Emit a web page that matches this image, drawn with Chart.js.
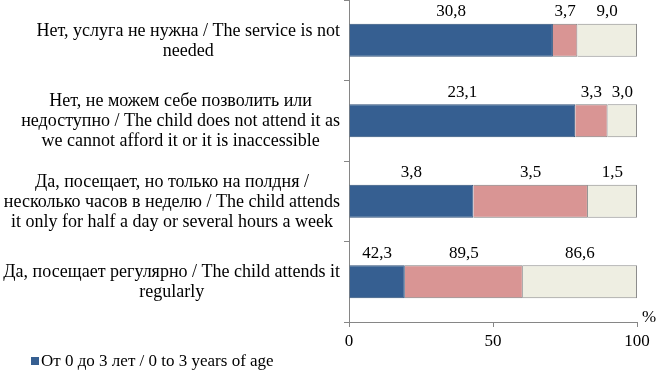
<!DOCTYPE html>
<html>
<head>
<meta charset="utf-8">
<script src="https://cdn.jsdelivr.net/npm/chart.js@4"></script>
<style>
  html, body { margin: 0; padding: 0; background: #fff; }
  #wrap { width: 658px; height: 371px; }
</style>
</head>
<body>
<div id="wrap"><canvas id="chartAttend"></canvas></div>
<script>
// categories (top to bottom)
var categories = [
    ['Нет, услуга не нужна / The service is not', 'needed'],
    ['Нет, не можем себе позволить или', 'недоступно / The child does not attend it as', 'we cannot afford it or it is inaccessible'],
    ['Да, посещает, но только на полдня /', 'несколько часов в неделю / The child attends', 'it only for half a day or several hours a week'],
    ['Да, посещает регулярно / The child attends it', 'regularly']
];
// series values as printed on the chart
var age0to3 = [30.8, 23.1, 3.8, 42.3];
var age3to5 = [3.7, 3.3, 3.5, 89.5];
var age5to7 = [9.0, 3.0, 1.5, 86.6];
var seriesNames = ['От 0 до 3 лет / 0 to 3 years of age', 'От 3 до 5 лет / 3 to 5 years of age', 'От 5 до 7 лет / 5 to 7 years of age'];
var xTicks = [0, 50, 100];

var font = '"Liberation Serif", "Times New Roman", serif';
var gray = '#868686';

// 100% stacked: share of each row
function share(series) {
    return series.map(function(v, i) {
        var total = age0to3[i] + age3to5[i] + age5to7[i];
        return v / total * 100;
    });
}

var chartData = {
    labels: categories,
    datasets: [{
        label: seriesNames[0],
        data: share(age0to3),
        raw: age0to3,
        backgroundColor: '#365F91',
        borderColor: '#2E4F78',
        borderWidth: 1
    }, {
        label: seriesNames[1],
        data: share(age3to5),
        raw: age3to5,
        backgroundColor: '#D99594',
        borderColor: '#7F7F7F',
        borderWidth: 1
    }, {
        label: seriesNames[2],
        data: share(age5to7),
        raw: age5to7,
        backgroundColor: '#EEEEE2',
        borderColor: '#8C8C8C',
        borderWidth: 1
    }]
};

// category labels, each block centred on its widest line, right edge at 340
var catLabels = {
    id: 'catLabels',
    afterDraw: function(chart) {
        var ctx = chart.ctx, y = chart.scales.y;
        ctx.save();
        ctx.font = '18px ' + font;
        ctx.fillStyle = '#000';
        ctx.textAlign = 'center';
        ctx.textBaseline = 'middle';
        categories.forEach(function(lines, i) {
            var widest = 0;
            lines.forEach(function(l) { widest = Math.max(widest, ctx.measureText(l).width); });
            var cx = 340 - widest / 2;
            var cy = y.getPixelForValue(i) + 1;
            var lh = 20;
            lines.forEach(function(l, k) {
                ctx.fillText(l, cx, cy + (k - (lines.length - 1) / 2) * lh);
            });
        });
        ctx.restore();
    }
};

// value labels above each segment, legend item and % sign
var extras = {
    id: 'extras',
    afterDraw: function(chart) {
        var ctx = chart.ctx;
        ctx.save();
        ctx.font = '17px ' + font;
        ctx.fillStyle = '#000';
        ctx.textAlign = 'center';
        ctx.textBaseline = 'middle';
        chart.data.datasets.forEach(function(ds, di) {
            chart.getDatasetMeta(di).data.forEach(function(bar, i) {
                var p = bar.getProps(['x', 'y', 'base', 'height'], true);
                var cx = (p.x + p.base) / 2;
                ctx.fillText(ds.raw[i].toFixed(1).replace('.', ','), cx, p.y - p.height / 2 - 12);
            });
        });
        // % sign at end of x axis
        ctx.textAlign = 'left';
        ctx.fillText('%', 642, 318);
        // legend (only first entry is visible in the frame)
        ctx.fillStyle = chart.data.datasets[0].backgroundColor;
        ctx.fillRect(31, 357, 8, 8);
        ctx.fillStyle = '#000';
        ctx.textAlign = 'left';
        ctx.fillText(seriesNames[0], 41, 362);
        ctx.restore();
    }
};

var ctx = document.getElementById('chartAttend');
var myChart = new Chart(ctx, {
    type: 'bar',
    data: chartData,
    plugins: [catLabels, extras],
    options: {
        indexAxis: 'y',
        responsive: true,
        maintainAspectRatio: false,
        animation: false,
        layout: { padding: { left: 0, right: 21, top: 0, bottom: 0 } },
        datasets: { bar: { categoryPercentage: 1, barPercentage: 0.41 } },
        plugins: {
            legend: { display: false },
            tooltip: { enabled: false }
        },
        scales: {
            x: {
                stacked: true,
                min: 0,
                max: 100,
                afterBuildTicks: function(scale) {
                    scale.ticks = xTicks.map(function(v) { return { value: v }; });
                },
                afterFit: function(scale) { scale.height = 49; },
                border: { display: true, color: gray, width: 1 },
                grid: { drawOnChartArea: false, drawTicks: true, tickLength: 5, color: gray },
                ticks: { color: '#000', font: { family: font, size: 17 }, padding: 4 }
            },
            y: {
                stacked: true,
                afterFit: function(scale) { scale.width = 349; },
                border: { display: true, color: gray, width: 1 },
                grid: { drawOnChartArea: false, drawTicks: true, tickLength: 5, color: gray, offset: true },
                ticks: { display: false }
            }
        }
    }
});
</script>
</body>
</html>
